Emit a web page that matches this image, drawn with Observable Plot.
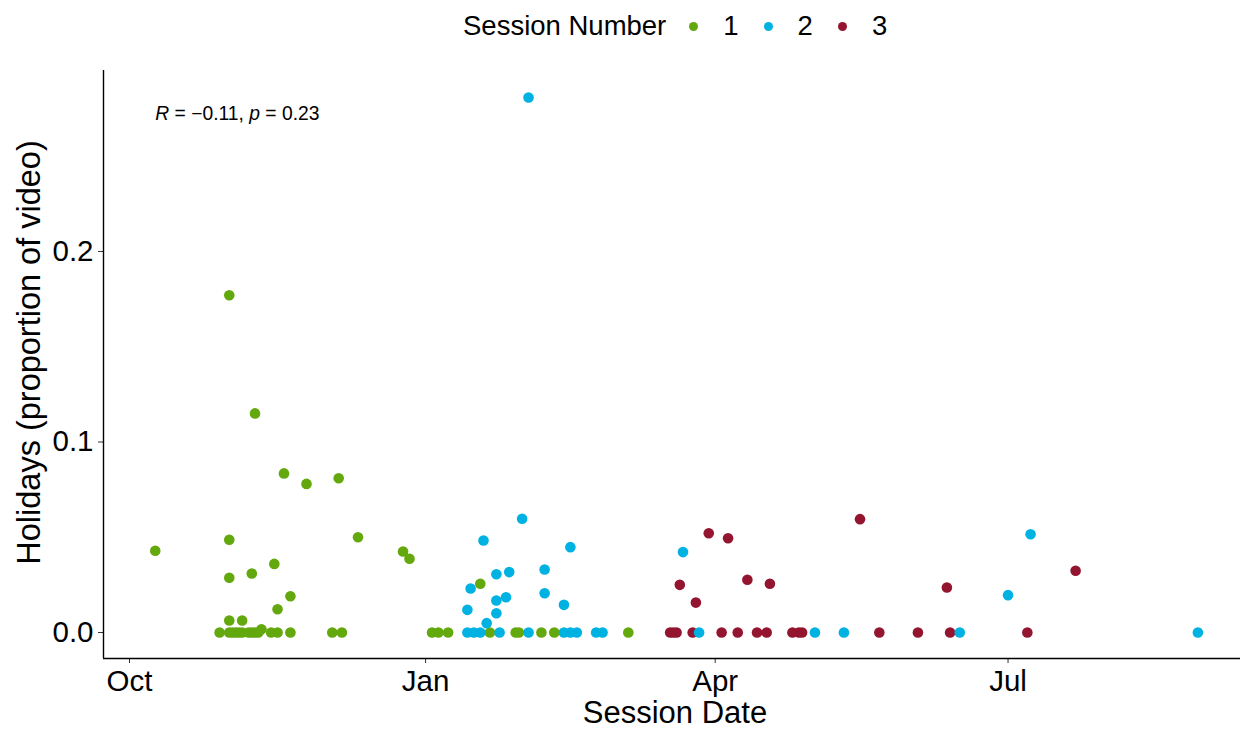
<!DOCTYPE html>
<html>
<head>
<meta charset="utf-8">
<script src="https://cdn.jsdelivr.net/npm/d3@7"></script>
<script src="https://cdn.jsdelivr.net/npm/@observablehq/plot@0.6"></script>
<style>
  body { margin: 0; background: #fff; font-family: "Liberation Sans", Arial, Helvetica, sans-serif; }
  #wrap { width: 1241px; }
  #legend { height: 52px; position: relative; }
  #legend .row { position: absolute; left: 463px; top: 0; height: 52px; display: flex; align-items: center; font-size: 27.5px; color: #000; white-space: nowrap; }
  #legend .dot { display: inline-block; width: 9px; height: 9px; border-radius: 50%; }
  #chart svg { display: block; }
</style>
</head>
<body>
<div id="wrap">
  <div id="legend"></div>
  <div id="chart"></div>
</div>
<script>
// ---- data ----
const legendTitle = "Session Number";
const sessions = ["1", "2", "3"];
const sessionColors = ["#63A80C", "#00B2E2", "#93152F"];

const s1Dates = [
  "2021-10-09","2021-11-01","2021-11-01","2021-11-01","2021-11-01","2021-11-05","2021-11-08","2021-11-09",
  "2021-11-11","2021-11-15","2021-11-16","2021-11-18","2021-11-20","2021-11-25","2021-12-05","2021-12-11",
  "2021-12-25","2021-12-27","2022-01-18",
  "2021-10-29","2021-11-01","2021-11-02","2021-11-03","2021-11-04","2021-11-05","2021-11-07","2021-11-08",
  "2021-11-09","2021-11-10","2021-11-14","2021-11-16","2021-11-20","2021-12-03","2021-12-06","2022-01-03",
  "2022-01-05","2022-01-08","2022-01-21","2022-01-29","2022-01-30","2022-02-06","2022-02-10","2022-03-05"
];
const s1Values = [
  0.0429,0.177,0.0487,0.0287,0.0063,0.0063,0.031,0.115,
  0.0017,0.036,0.0122,0.0835,0.019,0.078,0.081,0.050,
  0.0425,0.0387,0.0256,
  0,0,0,0,0,0,0,0,
  0,0,0,0,0,0,0,0,
  0,0,0,0,0,0,0,0
];

const s2Dates = [
  "2022-01-14","2022-01-15","2022-01-19","2022-01-20","2022-01-23","2022-01-23","2022-01-23","2022-01-26",
  "2022-01-27","2022-01-31","2022-02-02","2022-02-07","2022-02-07","2022-02-13","2022-02-15","2022-03-22",
  "2022-07-01","2022-07-08",
  "2022-01-14","2022-01-16","2022-01-18","2022-01-24","2022-02-02","2022-02-13","2022-02-15","2022-02-17",
  "2022-02-23","2022-02-25","2022-03-27","2022-05-02","2022-05-11","2022-06-16","2022-08-29"
];
const s2Values = [
  0.0119,0.0231,0.0483,0.0049,0.0306,0.0168,0.0101,0.0185,
  0.0317,0.0597,0.2808,0.0331,0.0206,0.0145,0.0448,0.0422,
  0.0196,0.0516,
  0,0,0,0,0,0,0,0,
  0,0,0,0,0,0,0
];

const s3Dates = [
  "2022-03-21","2022-03-26","2022-03-30","2022-04-05","2022-04-11","2022-04-18","2022-05-16","2022-06-12",
  "2022-07-22",
  "2022-03-18","2022-03-19","2022-03-20","2022-03-25","2022-04-03","2022-04-08","2022-04-14","2022-04-17",
  "2022-04-25","2022-04-27","2022-04-28","2022-05-22","2022-06-03","2022-06-13","2022-07-07"
];
const s3Values = [
  0.025,0.0157,0.0521,0.0495,0.0277,0.0256,0.0595,0.0236,
  0.0324,
  0,0,0,0,0,0,0,0,
  0,0,0,0,0,0,0
];

const xTicks = ["2021-10-01","2022-01-01","2022-04-01","2022-07-01"];
const yTicks = [0, 0.1, 0.2];
const xTitle = "Session Date";
const yTitle = "Holidays (proportion of video)";
const corR = "\u22120.11";
const corP = "0.23";

// ---- build table ----
const toRows = (dates, values, s) => dates.map((d, i) => ({date: new Date(d), value: values[i], session: s}));
const data = [
  ...toRows(s1Dates, s1Values, "1"),
  ...toRows(s3Dates, s3Values, "3"),
  ...toRows(s2Dates, s2Values, "2")
];

const xDomain = [new Date("2021-09-22T22:00:00Z"), new Date("2022-09-11T05:45:00Z")];
const yDomain = [-0.01365, 0.295];

const corText = `R = ${corR}, p = ${corP}`;
const corRow = [{date: d3.min(data, d => d.date), value: d3.max(data, d => d.value), label: corText}];

// ---- legend ----
const leg = document.getElementById("legend");
const row = document.createElement("div");
row.className = "row";
const t = document.createElement("span");
t.textContent = legendTitle;
row.appendChild(t);
sessions.forEach((s, i) => {
  const dot = document.createElement("span");
  dot.className = "dot";
  dot.style.background = sessionColors[i];
  dot.style.marginLeft = i === 0 ? "23px" : "25px";
  row.appendChild(dot);
  const lab = document.createElement("span");
  lab.textContent = s;
  lab.style.marginLeft = "25px";
  row.appendChild(lab);
});
leg.appendChild(row);

// ---- plot ----
const chart = Plot.plot({
  width: 1241,
  height: 677,
  marginTop: 18,
  marginBottom: 71,
  marginLeft: 103,
  marginRight: 1,
  style: {fontFamily: "'Liberation Sans', Arial, Helvetica, sans-serif", background: "#fff", color: "#000"},
  x: {type: "utc", domain: xDomain},
  y: {domain: yDomain},
  color: {domain: sessions, range: sessionColors},
  marks: [
    Plot.axisX({ticks: xTicks.map(d => new Date(d)), tickFormat: d3.utcFormat("%b"), tickSize: 5, tickPadding: 7, fontSize: 29.5, label: null, stroke: "#333"}),
    Plot.axisY({ticks: yTicks, tickFormat: d3.format(".1f"), tickSize: 5, tickPadding: 5, fontSize: 29.5, label: null, stroke: "#333"}),
    Plot.ruleY([yDomain[0]], {stroke: "#000", strokeWidth: 1.4}),
    Plot.ruleX([xDomain[0]], {stroke: "#000", strokeWidth: 1.4}),
    Plot.dot(data, {x: "date", y: "value", fill: "session", r: 5.3, stroke: "none"}),
    Plot.text(corRow, {x: "date", y: "value", text: "label", textAnchor: "start", dy: 16, fontSize: 19.3, fill: "#000"}),
    Plot.text([xTitle], {frameAnchor: "bottom", text: d => d, textAnchor: "middle", lineAnchor: "middle", dx: 3, dy: 55, fontSize: 31, fill: "#000"}),
    Plot.text([yTitle], {frameAnchor: "left", text: d => d, textAnchor: "middle", lineAnchor: "middle", rotate: -90, dx: -74, dy: -12, fontSize: 32.5, fill: "#000"})
  ]
});

d3.select(chart).selectAll("text").filter(function () { return this.textContent === corText; }).each(function () {
  const el = d3.select(this);
  el.text(null);
  el.append("tspan").attr("font-style", "italic").text("R");
  el.append("tspan").text(` = ${corR}, `);
  el.append("tspan").attr("font-style", "italic").text("p");
  el.append("tspan").text(` = ${corP}`);
});

document.getElementById("chart").appendChild(chart);
</script>
</body>
</html>
